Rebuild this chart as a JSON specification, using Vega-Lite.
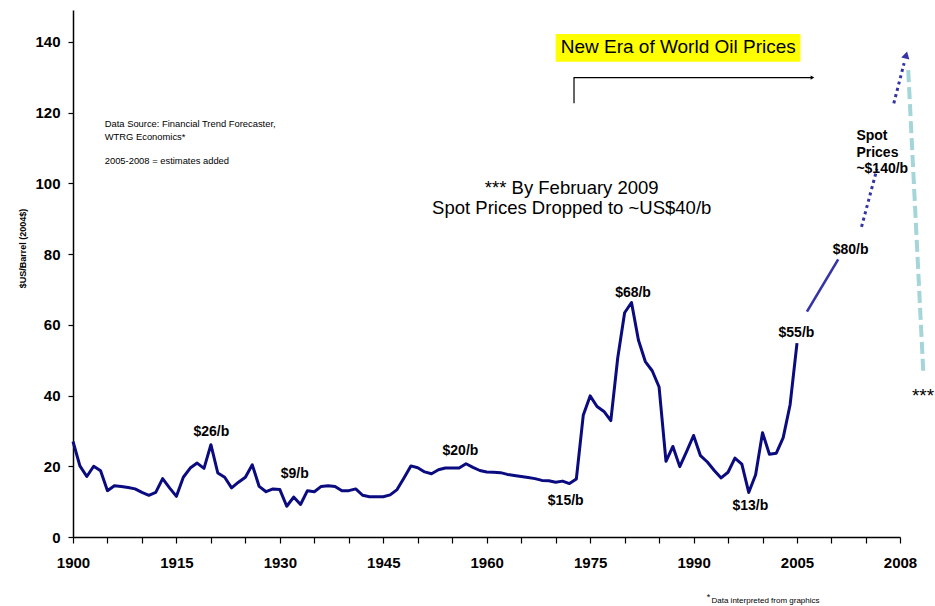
{
  "$schema": "https://vega.github.io/schema/vega-lite/v6.json",
  "width": 827,
  "height": 527,
  "autosize": {"type": "none"},
  "padding": {"left": 73, "top": 10, "right": 35, "bottom": 69},
  "background": "white",
  "config": {
    "view": {"stroke": null},
    "font": "Liberation Sans",
    "axis": {"grid": false, "domainColor": "#000", "tickColor": "#000", "labelColor": "#000", "titleColor": "#000", "labelFont": "Liberation Sans", "titleFont": "Liberation Sans", "labelOverlap": false},
    "axisX": {"labelOverlap": false, "labelSeparation": 0},
    "text": {"font": "Liberation Sans", "color": "#000"}
  },
  "datasets": {
    "prices": [
      {"year": 1900, "price": 27.0}, {"year": 1901, "price": 20.1}, {"year": 1902, "price": 17.1}, {"year": 1903, "price": 20.0}, {"year": 1904, "price": 18.7},
      {"year": 1905, "price": 13.1}, {"year": 1906, "price": 14.5}, {"year": 1907, "price": 14.3}, {"year": 1908, "price": 14.0}, {"year": 1909, "price": 13.6},
      {"year": 1910, "price": 12.6}, {"year": 1911, "price": 11.8}, {"year": 1912, "price": 12.6}, {"year": 1913, "price": 16.5}, {"year": 1914, "price": 13.9},
      {"year": 1915, "price": 11.5}, {"year": 1916, "price": 16.9}, {"year": 1917, "price": 19.5}, {"year": 1918, "price": 20.9}, {"year": 1919, "price": 19.4},
      {"year": 1920, "price": 26.1}, {"year": 1921, "price": 18.1}, {"year": 1922, "price": 16.9}, {"year": 1923, "price": 13.9}, {"year": 1924, "price": 15.5},
      {"year": 1925, "price": 16.9}, {"year": 1926, "price": 20.4}, {"year": 1927, "price": 14.3}, {"year": 1928, "price": 12.8}, {"year": 1929, "price": 13.6},
      {"year": 1930, "price": 13.4}, {"year": 1931, "price": 8.7}, {"year": 1932, "price": 11.3}, {"year": 1933, "price": 9.2}, {"year": 1934, "price": 13.1},
      {"year": 1935, "price": 12.8}, {"year": 1936, "price": 14.3}, {"year": 1937, "price": 14.5}, {"year": 1938, "price": 14.3}, {"year": 1939, "price": 13.1},
      {"year": 1940, "price": 13.1}, {"year": 1941, "price": 13.6}, {"year": 1942, "price": 11.8}, {"year": 1943, "price": 11.4}, {"year": 1944, "price": 11.4},
      {"year": 1945, "price": 11.4}, {"year": 1946, "price": 11.9}, {"year": 1947, "price": 13.4}, {"year": 1948, "price": 16.7}, {"year": 1949, "price": 20.1},
      {"year": 1950, "price": 19.6}, {"year": 1951, "price": 18.4}, {"year": 1952, "price": 17.9}, {"year": 1953, "price": 19.0}, {"year": 1954, "price": 19.5},
      {"year": 1955, "price": 19.5}, {"year": 1956, "price": 19.5}, {"year": 1957, "price": 20.7}, {"year": 1958, "price": 19.7}, {"year": 1959, "price": 18.8},
      {"year": 1960, "price": 18.4}, {"year": 1961, "price": 18.3}, {"year": 1962, "price": 18.2}, {"year": 1963, "price": 17.7}, {"year": 1964, "price": 17.4},
      {"year": 1965, "price": 17.1}, {"year": 1966, "price": 16.8}, {"year": 1967, "price": 16.5}, {"year": 1968, "price": 16.0}, {"year": 1969, "price": 15.9},
      {"year": 1970, "price": 15.5}, {"year": 1971, "price": 15.8}, {"year": 1972, "price": 15.1}, {"year": 1973, "price": 16.4}, {"year": 1974, "price": 34.4},
      {"year": 1975, "price": 39.9}, {"year": 1976, "price": 36.9}, {"year": 1977, "price": 35.5}, {"year": 1978, "price": 32.9}, {"year": 1979, "price": 50.6},
      {"year": 1980, "price": 63.4}, {"year": 1981, "price": 66.3}, {"year": 1982, "price": 55.7}, {"year": 1983, "price": 49.6}, {"year": 1984, "price": 47.0},
      {"year": 1985, "price": 42.4}, {"year": 1986, "price": 21.4}, {"year": 1987, "price": 25.6}, {"year": 1988, "price": 19.9}, {"year": 1989, "price": 24.2},
      {"year": 1990, "price": 28.7}, {"year": 1991, "price": 23.0}, {"year": 1992, "price": 21.2}, {"year": 1993, "price": 18.8}, {"year": 1994, "price": 16.7},
      {"year": 1995, "price": 18.3}, {"year": 1996, "price": 22.3}, {"year": 1997, "price": 20.6}, {"year": 1998, "price": 12.6}, {"year": 1999, "price": 17.6},
      {"year": 2000, "price": 29.5}, {"year": 2001, "price": 23.4}, {"year": 2002, "price": 23.7}, {"year": 2003, "price": 28.1}, {"year": 2004, "price": 37.4},
      {"year": 2005, "price": 54.8}
    ],
    "ext": [
      {"series": "est", "year": 2005.29, "price": 63.7},
      {"series": "est", "year": 2006.2, "price": 78.5},
      {"series": "spot1", "year": 2006.88, "price": 87.7},
      {"series": "spot1", "year": 2007.33, "price": 104.1},
      {"series": "spot2", "year": 2007.82, "price": 122.6},
      {"series": "spot2", "year": 2008.12, "price": 134.0},
      {"series": "drop", "year": 2008.24, "price": 132.0},
      {"series": "drop", "year": 2008.68, "price": 46.3}
    ],
    "bracket": [
      {"ord": 1, "year": 1972.66, "price": 122.6},
      {"ord": 2, "year": 1972.66, "price": 129.9},
      {"ord": 3, "year": 2005.45, "price": 129.9}
    ],
    "heads": [
      {"kind": "spot", "year": 2008.18, "price": 136.3},
      {"kind": "era", "year": 2005.45, "price": 129.9}
    ],
    "box": [
      {"year": 1970.0, "year2": 2005.1, "price": 134.4, "price2": 142.2}
    ],
    "labels": [
      {"g": "price", "year": 1920.07, "price": 29.7, "text": "$26/b"},
      {"g": "price", "year": 1932.15, "price": 17.8, "text": "$9/b"},
      {"g": "price", "year": 1956.19, "price": 24.4, "text": "$20/b"},
      {"g": "price", "year": 1971.46, "price": 10.3, "text": "$15/b"},
      {"g": "price", "year": 1981.22, "price": 69.1, "text": "$68/b"},
      {"g": "price", "year": 1998.24, "price": 8.8, "text": "$13/b"},
      {"g": "price", "year": 2004.92, "price": 57.8, "text": "$55/b"},
      {"g": "price", "year": 2006.56, "price": 81.1, "text": "$80/b"},
      {"g": "spot", "year": 2006.73, "price": 113.4, "text": "Spot\nPrices\n~$140/b"},
      {"g": "era", "year": 1970.73, "price": 138.4, "text": "New Era of World Oil Prices"},
      {"g": "drop", "year": 1972.33, "price": 98.6, "text": "*** By February 2009"},
      {"g": "drop", "year": 1972.33, "price": 93.1, "text": "Spot Prices Dropped to ~US$40/b"},
      {"g": "source", "year": 1904.6, "price": 116.8, "text": "Data Source: Financial Trend Forecaster,"},
      {"g": "source", "year": 1904.6, "price": 113.0, "text": "WTRG Economics*"},
      {"g": "source", "year": 1904.6, "price": 106.4, "text": "2005-2008 = estimates added"},
      {"g": "stars", "year": 2008.67, "price": 40.0, "text": "***"},
      {"g": "footstar", "year": 1991.9, "price": -16.9, "text": "*"},
      {"g": "foot", "year": 1992.6, "price": -18.1, "text": "Data interpreted from graphics"}
    ]
  },
  "encoding": {
    "x": {
      "field": "year", "type": "quantitative",
      "scale": {"type": "linear", "domain": [1900, 2005, 2008], "range": [0, 724, 827], "nice": false, "zero": false},
      "axis": {
        "title": null,
        "values": [1900, 1905, 1910, 1915, 1920, 1925, 1930, 1935, 1940, 1945, 1950, 1955, 1960, 1965, 1970, 1975, 1980, 1985, 1990, 1995, 2000, 2005, 2006, 2007, 2008],
        "labelExpr": "((datum.value % 15 == 10 && datum.value <= 2005) || datum.value == 2008) ? format(datum.value, 'd') : ''",
        "labelOverlap": false, "labelFlush": false, "labelBound": false,
        "tickSize": 6, "tickWidth": 1.2, "domainWidth": 1.5,
        "labelPadding": 12, "labelFontSize": 15, "labelFontWeight": "bold"
      }
    },
    "y": {
      "field": "price", "type": "quantitative",
      "scale": {"domain": [0, 149], "nice": false, "zero": true},
      "axis": {
        "title": "$US/Barrel (2004$)",
        "titleFontSize": 9, "titleFontWeight": "bold",
        "titleX": -51, "titleY": 238, "titleAngle": -90, "titleAlign": "center", "titleBaseline": "middle",
        "values": [0, 20, 40, 60, 80, 100, 120, 140],
        "tickSize": 5, "tickWidth": 1.2, "domainWidth": 1.5,
        "labelPadding": 8, "labelFontSize": 15, "labelFontWeight": "bold"
      }
    }
  },
  "layer": [
    {
      "data": {"name": "box"},
      "mark": {"type": "rect", "fill": "#ffff00"},
      "encoding": {"x2": {"field": "year2"}, "y2": {"field": "price2"}}
    },
    {
      "data": {"name": "prices"},
      "mark": {"type": "line", "color": "#0b0b80", "strokeWidth": 3, "strokeJoin": "round"}
    },
    {
      "data": {"name": "ext"},
      "transform": [{"filter": "datum.series == 'est'"}],
      "mark": {"type": "line", "color": "#3434a6", "strokeWidth": 2.6}
    },
    {
      "data": {"name": "ext"},
      "transform": [{"filter": "datum.series == 'spot1' || datum.series == 'spot2'"}],
      "mark": {"type": "line", "color": "#3434a6", "strokeWidth": 3, "strokeDash": [3, 3.5]},
      "encoding": {"detail": {"field": "series"}}
    },
    {
      "data": {"name": "ext"},
      "transform": [{"filter": "datum.series == 'drop'"}],
      "mark": {"type": "line", "color": "#a4d5d8", "strokeWidth": 4, "strokeDash": [12, 5]}
    },
    {
      "data": {"name": "bracket"},
      "mark": {"type": "line", "color": "#000", "strokeWidth": 1.2},
      "encoding": {"order": {"field": "ord"}}
    },
    {
      "data": {"name": "heads"},
      "transform": [{"filter": "datum.kind == 'spot'"}],
      "mark": {"type": "point", "shape": "triangle-up", "filled": true, "color": "#3434a6", "size": 70, "angle": 14, "opacity": 1}
    },
    {
      "data": {"name": "heads"},
      "transform": [{"filter": "datum.kind == 'era'"}],
      "mark": {"type": "point", "shape": "triangle-right", "filled": true, "color": "#000", "size": 18, "opacity": 1}
    },
    {
      "data": {"name": "labels"},
      "transform": [{"filter": "datum.g == 'price'"}],
      "mark": {"type": "text", "fontSize": 14, "fontWeight": "bold", "align": "center", "baseline": "middle"},
      "encoding": {"text": {"field": "text"}}
    },
    {
      "data": {"name": "labels"},
      "transform": [{"filter": "datum.g == 'spot'"}],
      "mark": {"type": "text", "fontSize": 14, "fontWeight": "bold", "align": "left", "baseline": "middle", "lineBreak": "\n", "lineHeight": 16.7},
      "encoding": {"text": {"field": "text"}}
    },
    {
      "data": {"name": "labels"},
      "transform": [{"filter": "datum.g == 'era'"}],
      "mark": {"type": "text", "fontSize": 19, "align": "left", "baseline": "middle"},
      "encoding": {"text": {"field": "text"}}
    },
    {
      "data": {"name": "labels"},
      "transform": [{"filter": "datum.g == 'drop'"}],
      "mark": {"type": "text", "fontSize": 18.5, "align": "center", "baseline": "middle"},
      "encoding": {"text": {"field": "text"}}
    },
    {
      "data": {"name": "labels"},
      "transform": [{"filter": "datum.g == 'source'"}],
      "mark": {"type": "text", "fontSize": 9.4, "align": "left", "baseline": "middle"},
      "encoding": {"text": {"field": "text"}}
    },
    {
      "data": {"name": "labels"},
      "transform": [{"filter": "datum.g == 'stars'"}],
      "mark": {"type": "text", "fontSize": 19, "align": "center", "baseline": "middle"},
      "encoding": {"text": {"field": "text"}}
    },
    {
      "data": {"name": "labels"},
      "transform": [{"filter": "datum.g == 'footstar'"}],
      "mark": {"type": "text", "fontSize": 9, "align": "left", "baseline": "middle"},
      "encoding": {"text": {"field": "text"}}
    },
    {
      "data": {"name": "labels"},
      "transform": [{"filter": "datum.g == 'foot'"}],
      "mark": {"type": "text", "fontSize": 8, "align": "left", "baseline": "middle"},
      "encoding": {"text": {"field": "text"}}
    }
  ]
}
